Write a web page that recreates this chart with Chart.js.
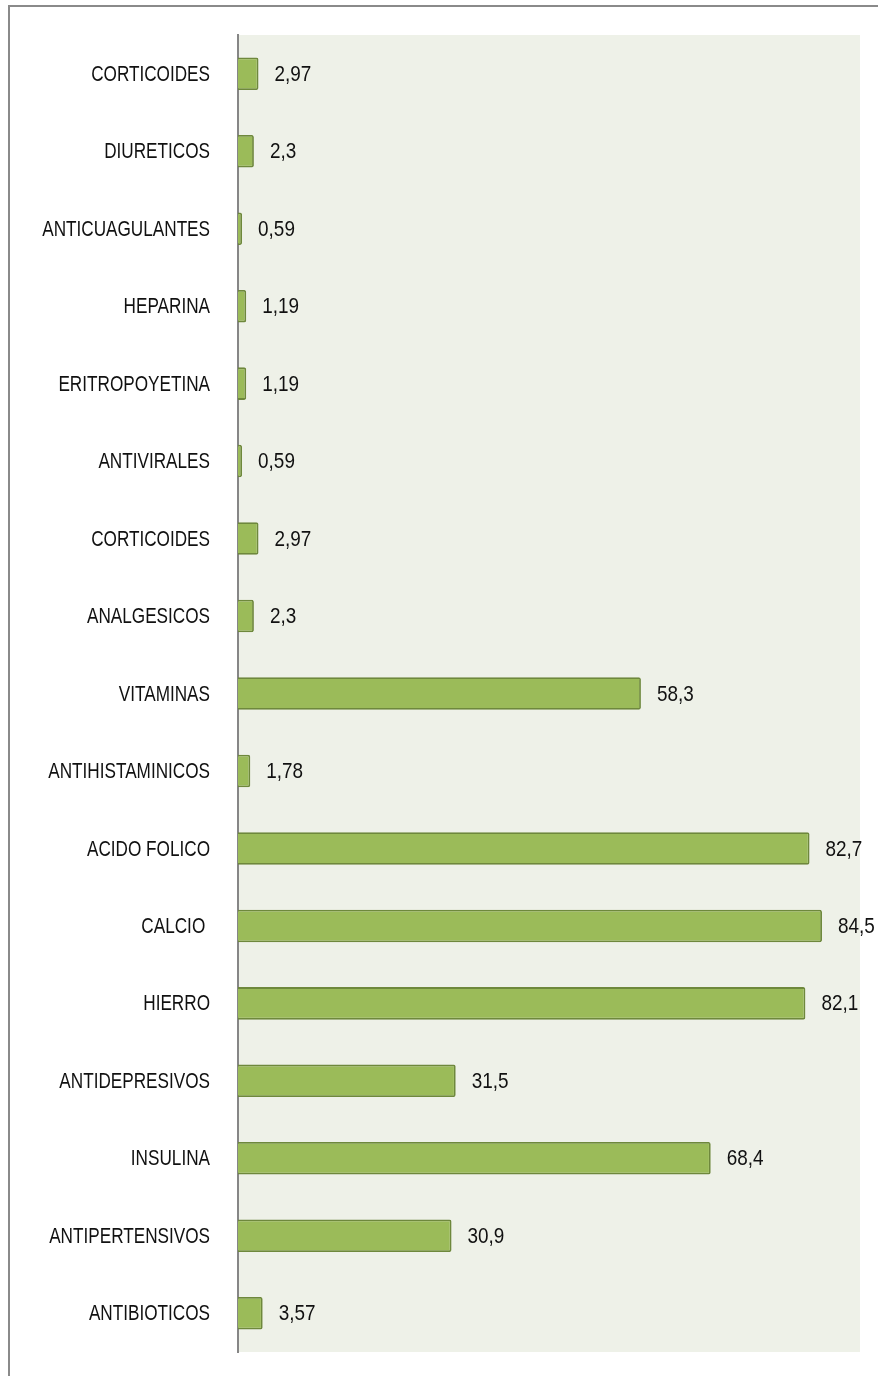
<!DOCTYPE html>
<html>
<head>
<meta charset="utf-8">
<script src="https://cdn.jsdelivr.net/npm/chart.js@4.4.1/dist/chart.umd.min.js"></script>
<style>
  html, body { margin: 0; padding: 0; background: #fff; overflow: hidden; }
  #wrap { position: relative; width: 878px; height: 1376px; }
  #frame { position: absolute; left: 8px; top: 5px; width: 900px; height: 1400px;
           border: 2px solid #8a8a8a; box-sizing: border-box; pointer-events: none; }
  canvas { position: absolute; left: 0; top: 0; }
</style>
</head>
<body>
<div id="wrap">
  <canvas id="chart" width="878" height="1376"></canvas>
  <div id="frame"></div>
</div>
<script>
// categorias de arriba hacia abajo
const categorias = [
  'CORTICOIDES', 'DIURETICOS', 'ANTICUAGULANTES', 'HEPARINA', 'ERITROPOYETINA',
  'ANTIVIRALES', 'CORTICOIDES', 'ANALGESICOS', 'VITAMINAS', 'ANTIHISTAMINICOS',
  'ACIDO FOLICO', 'CALCIO ', 'HIERRO', 'ANTIDEPRESIVOS', 'INSULINA',
  'ANTIPERTENSIVOS', 'ANTIBIOTICOS'
];
const porcentajes = [
  2.97, 2.3, 0.59, 1.19, 1.19,
  0.59, 2.97, 2.3, 58.3, 1.78,
  82.7, 84.5, 82.1, 31.5, 68.4,
  30.9, 3.57
];
const ejeMax = 90;

// no hay fuente estrecha instalada: se comprime Liberation Sans en horizontal
const FUENTE = '22px "Liberation Sans", Arial, sans-serif';
const ESTRECHO_CAT = 0.78;
const ESTRECHO_VAL = 0.86;
const COLOR_TEXTO = '#111111';

function textoEstrecho(ctx, txt, x, y, align, escala) {
  ctx.save();
  ctx.translate(x, y);
  ctx.scale(escala, 1);
  ctx.textAlign = align;
  ctx.fillText(txt, 0, 0);
  ctx.restore();
}

// fondo del area de trazado
const fondoPlot = {
  id: 'fondoPlot',
  beforeDraw(chart) {
    const { ctx, chartArea: a } = chart;
    ctx.save();
    ctx.fillStyle = '#eef1e8';
    ctx.fillRect(a.left, a.top, a.right - a.left, a.bottom - a.top);
    ctx.restore();
  }
};

// nombres de categoria y valor al final de cada barra (coma decimal)
const etiquetas = {
  id: 'etiquetas',
  afterDatasetsDraw(chart) {
    const { ctx } = chart;
    const yEje = chart.scales.y;
    const meta = chart.getDatasetMeta(0);
    ctx.save();
    ctx.font = FUENTE;
    ctx.fillStyle = COLOR_TEXTO;
    ctx.textBaseline = 'middle';
    categorias.forEach((cat, i) => {
      textoEstrecho(ctx, cat, yEje.right - 28, yEje.getPixelForValue(i) + 1, 'right', ESTRECHO_CAT);
    });
    meta.data.forEach((bar, i) => {
      const txt = String(porcentajes[i]).replace('.', ',');
      textoEstrecho(ctx, txt, bar.x + 16, bar.y + 1, 'left', ESTRECHO_VAL);
    });
    ctx.restore();
  }
};

new Chart(document.getElementById('chart'), {
  type: 'bar',
  data: {
    labels: categorias,
    datasets: [{
      data: porcentajes,
      backgroundColor: '#9bbb59',
      borderColor: '#6e883c',
      borderWidth: 1.8,
      borderRadius: 2,
      borderSkipped: 'left',
      barPercentage: 0.42,
      categoryPercentage: 1,
    }],
  },
  options: {
    indexAxis: 'y',
    responsive: false,
    animation: false,
    layout: { padding: { top: 35, bottom: 24, right: 18, left: 0 } },
    scales: {
      x: { display: false, min: 0, max: ejeMax },
      y: {
        afterFit(scale) {
          scale.width = 238;
          scale.paddingTop = 0;
          scale.paddingBottom = 0;
        },
        grid: { display: false, drawTicks: false },
        border: { display: true, color: '#868686', width: 2 },
        ticks: { display: false },
      },
    },
    plugins: {
      legend: { display: false },
      tooltip: { enabled: false },
    },
  },
  plugins: [fondoPlot, etiquetas],
});
</script>
</body>
</html>
